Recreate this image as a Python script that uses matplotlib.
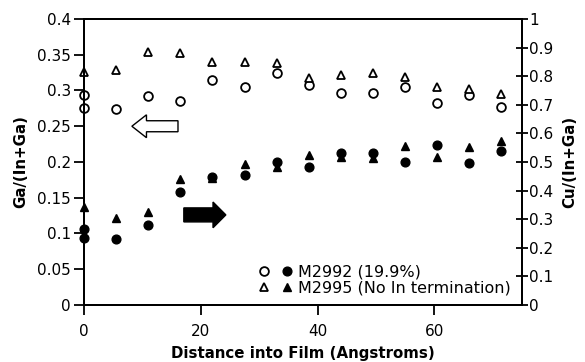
import numpy as np
import matplotlib
matplotlib.use('Agg')
import matplotlib.pyplot as plt
from matplotlib.ticker import FuncFormatter, MultipleLocator
from matplotlib.legend_handler import HandlerTuple

# depth positions (Angstroms); x=0 has two readings for M2992
dist_2992 = [0, 0, 5.5, 11, 16.5, 22, 27.5, 33, 38.5, 44, 49.5, 55, 60.5, 66, 71.5]
dist_2995 = [0, 5.5, 11, 16.5, 22, 27.5, 33, 38.5, 44, 49.5, 55, 60.5, 66, 71.5]

# Ga/(In+Ga), left axis
ga_2992 = [0.294, 0.276, 0.274, 0.292, 0.286, 0.314, 0.305, 0.324, 0.308, 0.297,
           0.296, 0.305, 0.282, 0.294, 0.277]
ga_2995 = [0.326, 0.328, 0.354, 0.352, 0.340, 0.340, 0.339, 0.317, 0.322, 0.325,
           0.319, 0.305, 0.302, 0.295]

# Cu/(In+Ga), right axis
cu_2992 = [0.265, 0.233, 0.230, 0.280, 0.394, 0.449, 0.455, 0.501, 0.481, 0.531,
           0.530, 0.501, 0.559, 0.498, 0.540]
cu_2995 = [0.342, 0.303, 0.326, 0.441, 0.445, 0.493, 0.483, 0.525, 0.517, 0.513,
           0.557, 0.519, 0.553, 0.573]

label_2992 = 'M2992 (19.9%)'
label_2995 = 'M2995 (No In termination)'


def trim(v, pos):
    s = f"{v:.2f}".rstrip('0').rstrip('.')
    return s


fig = plt.figure(figsize=(5.85, 3.62), dpi=100)
ax = fig.add_axes([0.1436, 0.1575, 0.7484, 0.79])
ax2 = ax.twinx()

ms = 6.3
c1, = ax.plot(dist_2992, ga_2992, 'o', ms=ms, mfc='white', mec='black', mew=1.3, clip_on=False)
t1, = ax.plot(dist_2995, ga_2995, '^', ms=ms, mfc='white', mec='black', mew=1.3, clip_on=False)
t2, = ax2.plot(dist_2995, cu_2995, '^', ms=ms, color='black', clip_on=False)
c2, = ax2.plot(dist_2992, cu_2992, 'o', ms=ms, color='black', clip_on=False)

# direction arrows
ax.arrow(16.1, 0.25, -7.9, 0, width=0.0154, head_width=0.032, head_length=2.5,
         length_includes_head=True, fc='white', ec='black', lw=1.0)
ax.arrow(17.1, 0.126, 7.2, 0, width=0.0196, head_width=0.036, head_length=2.2,
         length_includes_head=True, fc='black', ec='black', lw=1.0)

ax.set_xlim(0, 75)
ax.set_ylim(0, 0.4)
ax2.set_ylim(0, 1)
ax.xaxis.set_major_locator(MultipleLocator(20))
ax.yaxis.set_major_locator(MultipleLocator(0.05))
ax2.yaxis.set_major_locator(MultipleLocator(0.1))
ax.yaxis.set_major_formatter(FuncFormatter(trim))
ax2.yaxis.set_major_formatter(FuncFormatter(trim))

for a in (ax, ax2):
    for s in a.spines.values():
        s.set_linewidth(1.4)
ax.tick_params(axis='both', direction='out', length=7.5, width=1.3, labelsize=11, pad=2)
ax.tick_params(axis='x', pad=6)
ax2.tick_params(axis='y', direction='inout', length=9, width=1.3, labelsize=11, pad=1)

ax.set_xlabel('Distance into Film (Angstroms)', fontsize=10.8, fontweight='bold', labelpad=5)
ax.set_ylabel('Ga/(In+Ga)', fontsize=10.8, fontweight='bold', labelpad=6)
ax2.set_ylabel('Cu/(In+Ga)', fontsize=10.8, fontweight='bold', labelpad=6)

ax2.legend([(c1, c2), (t1, t2)], [label_2992, label_2995],
           handler_map={tuple: HandlerTuple(ndivide=None, pad=0.7)},
           loc='lower right', bbox_to_anchor=(1.0, -0.005), frameon=False,
           fontsize=11.5, handlelength=2.2, handletextpad=0.3, labelspacing=0.05,
           borderpad=0.2)

fig.savefig('out.png', dpi=100)
